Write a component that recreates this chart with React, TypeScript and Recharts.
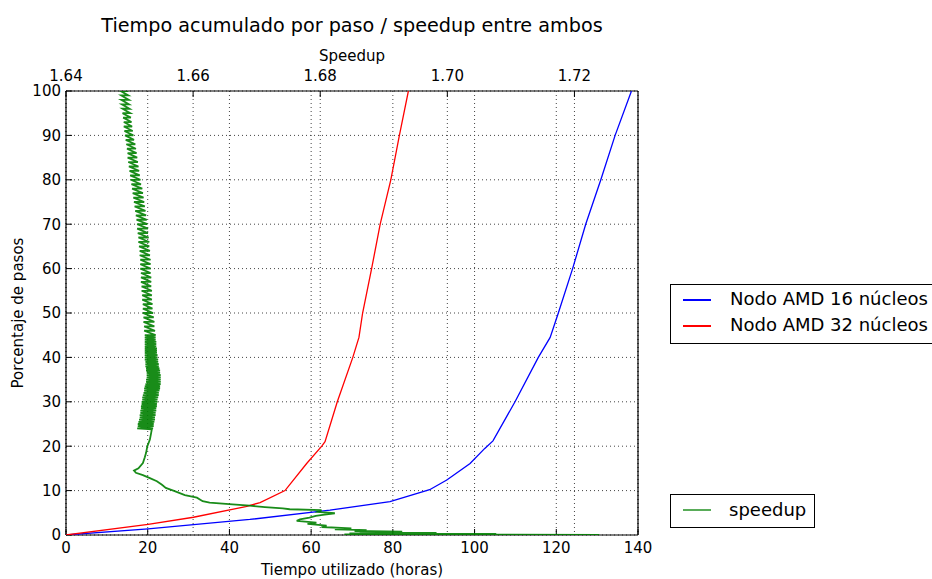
import React from "react";
import { ScatterChart, Scatter, XAxis, YAxis, CartesianGrid } from "recharts";

const hourTicks = [0, 20, 40, 60, 80, 100, 120, 140];
const speedupTicks = [1.64, 1.66, 1.68, 1.7, 1.72];
const pctTicks = [0, 10, 20, 30, 40, 50, 60, 70, 80, 90, 100];

// [horas, porcentaje]
const amd16: [number, number][] = [
  [0, 0], [20.1, 1.4], [45, 3.5], [64.6, 5.6], [79.3, 7.5], [89, 10.2],
  [93.2, 12.4], [98.9, 16.1], [102.5, 19.5], [104.5, 21.2], [109.9, 30],
  [115.6, 40], [118.5, 44.5], [120.5, 50], [124, 60], [127.2, 70],
  [130.9, 80], [134.4, 90], [138.4, 100],
];

const amd32: [number, number][] = [
  [0, 0], [20.1, 2.4], [31.2, 4], [44, 6.4], [47.5, 7.3], [53.6, 10],
  [58.9, 16.1], [62.6, 20], [63.4, 21], [66.4, 30], [70.2, 40],
  [71.7, 44.5], [72.6, 50], [74.8, 60], [76.9, 70], [79.5, 80],
  [81.6, 90], [83.8, 100],
];

// speedup, tramo bajo: [porcentaje, speedup]
const speedupLow: [number, number][] = [
  [0, 1.7239], [0.15, 1.6838], [0.25, 1.7077], [0.35, 1.6846], [0.45, 1.6983],
  [0.6, 1.6862], [0.75, 1.6929], [0.9, 1.6854], [1.1, 1.6873], [1.3, 1.6823],
  [1.5, 1.6849], [1.8, 1.6802], [2.1, 1.681], [2.5, 1.678], [2.8, 1.6794],
  [3.2, 1.6763], [3.5, 1.6768], [3.9, 1.6783], [4.3, 1.6793], [4.6, 1.6807],
  [4.9, 1.6823], [5.2, 1.6796], [5.6, 1.6802], [5.8, 1.6752], [6.0, 1.6741],
  [6.3, 1.6713], [6.6, 1.6689], [6.9, 1.6662], [7.3, 1.6626], [7.6, 1.6615],
  [8.4, 1.6606], [9.0, 1.6587], [9.9, 1.6571], [10.6, 1.6557], [11.3, 1.6551],
  [12.1, 1.6543], [12.8, 1.6532], [13.5, 1.6521], [14.0, 1.651], [14.5, 1.6507],
  [15.0, 1.6514], [16.2, 1.6521], [17.5, 1.6524], [18.5, 1.6526], [20.0, 1.6528],
  [21.5, 1.6532], [23.0, 1.6534], [23.8, 1.6535],
];

// speedup, banda oscilante: [porcentaje, mínimo, máximo]
const speedupBand: [number, number, number][] = [
  [24.0, 1.6512, 1.6537], [24.5, 1.6513, 1.6538], [25.0, 1.6513, 1.6538],
  [25.5, 1.6514, 1.6539], [26.0, 1.6515, 1.654], [26.5, 1.6516, 1.654],
  [27.0, 1.6516, 1.6541], [27.5, 1.6517, 1.6541], [28.0, 1.6517, 1.6542],
  [28.5, 1.6518, 1.6542], [29.0, 1.6518, 1.6543], [29.5, 1.6519, 1.6543],
  [30.0, 1.6519, 1.6544], [30.5, 1.652, 1.6544], [31.0, 1.652, 1.6545],
  [31.5, 1.6521, 1.6546], [32.0, 1.6522, 1.6546], [32.5, 1.6523, 1.6547],
  [33.0, 1.6523, 1.6548], [33.5, 1.6524, 1.6548], [34.0, 1.6525, 1.6549],
  [34.5, 1.6526, 1.6549], [35.0, 1.6526, 1.6549], [35.5, 1.6527, 1.6549],
  [36.0, 1.6527, 1.6549], [36.5, 1.6527, 1.6548], [37.0, 1.6526, 1.6548],
  [37.5, 1.6526, 1.6547], [38.0, 1.6525, 1.6546], [38.5, 1.6525, 1.6546],
  [39.0, 1.6525, 1.6545], [39.5, 1.6524, 1.6545], [40.0, 1.6524, 1.6544],
  [40.5, 1.6524, 1.6544], [41.0, 1.6524, 1.6543], [41.5, 1.6524, 1.6543],
  [42.0, 1.6524, 1.6543], [42.5, 1.6524, 1.6542], [43.0, 1.6524, 1.6542],
  [43.5, 1.6524, 1.6542], [44.0, 1.6524, 1.6541], [44.5, 1.6524, 1.6541],
  [45.0, 1.6524, 1.6541],
  [46, 1.6523, 1.654], [47, 1.6523, 1.6539], [48, 1.6522, 1.6539],
  [49, 1.6522, 1.6538], [50, 1.6521, 1.6537], [51, 1.6521, 1.6536],
  [52, 1.6521, 1.6536], [53, 1.652, 1.6535], [54, 1.652, 1.6535],
  [55, 1.6519, 1.6535], [56, 1.6519, 1.6534], [57, 1.6518, 1.6534],
  [58, 1.6518, 1.6534], [59, 1.6518, 1.6533], [60, 1.6517, 1.6533],
  [61, 1.6517, 1.6533], [62, 1.6517, 1.6533], [63, 1.6516, 1.6532],
  [64, 1.6516, 1.6532], [65, 1.6515, 1.6531], [66, 1.6514, 1.6531],
  [67, 1.6514, 1.653], [68, 1.6513, 1.6529], [69, 1.6512, 1.6529],
  [70, 1.6512, 1.6528], [71, 1.6511, 1.6527], [72, 1.651, 1.6526],
  [73, 1.6509, 1.6525], [74, 1.6508, 1.6524], [75, 1.6507, 1.6523],
  [76, 1.6506, 1.6522], [77, 1.6505, 1.6521], [78, 1.6504, 1.652],
  [79, 1.6503, 1.6518], [80, 1.6502, 1.6517], [81, 1.6501, 1.6516],
  [82, 1.65, 1.6515], [83, 1.6499, 1.6514], [84, 1.6498, 1.6513],
  [85, 1.6497, 1.6512], [86, 1.6497, 1.6511], [87, 1.6496, 1.651],
  [88, 1.6495, 1.6509], [89, 1.6494, 1.6507], [90, 1.6493, 1.6506],
  [91, 1.6492, 1.6505], [92, 1.6491, 1.6504], [93, 1.6491, 1.6503],
  [94, 1.649, 1.6502], [95, 1.6489, 1.6501], [96, 1.6489, 1.65],
  [97, 1.6488, 1.6499], [98, 1.6487, 1.6499], [99, 1.6487, 1.6498],
  [100, 1.6486, 1.6498],
];

const blueData = amd16.map(([h, p]) => ({ x: h, y: p }));
const redData = amd32.map(([h, p]) => ({ x: h, y: p }));
const greenData = [
  ...speedupLow.map(([p, s]) => ({ x: s, y: p })),
  ...speedupBand.flatMap(([p, lo, hi]) => [
    { x: lo, y: p },
    { x: hi, y: p },
  ]),
];

const font = "'DejaVu Sans', sans-serif";
const tickStyle = { fill: "#000", fontSize: 15, fontFamily: font };
const noDot = () => <g />;

const abs = (extra: React.CSSProperties): React.CSSProperties => ({
  position: "absolute",
  fontFamily: font,
  color: "#000",
  lineHeight: 1,
  whiteSpace: "nowrap",
  ...extra,
});

const swatch = (top: number, color: string): React.CSSProperties =>
  abs({ left: 12, top, width: 28, height: 1.5, background: color });

export default function App() {
  return (
    <div
      style={{
        position: "absolute",
        left: 0,
        top: 0,
        width: 932,
        height: 579,
        overflow: "hidden",
        background: "#fff",
      }}
    >
      <ScatterChart
        width={932}
        height={579}
        margin={{ top: 61, right: 0, bottom: 14, left: 16 }}
      >
        <CartesianGrid
          xAxisId="hours"
          yAxisId="pct"
          stroke="#444"
          strokeWidth={1}
          strokeDasharray="1 3"
        />
        <CartesianGrid
          xAxisId="speedup"
          yAxisId="pct"
          horizontal={false}
          stroke="#444"
          strokeWidth={1}
          strokeDasharray="1 3"
        />
        <XAxis
          xAxisId="hours"
          type="number"
          dataKey="x"
          domain={[0, 140]}
          ticks={hourTicks}
          interval={0}
          orientation="bottom"
          height={30}
          tick={tickStyle}
          tickSize={-6}
          tickMargin={13}
          axisLine={{ stroke: "#000", strokeWidth: 1.2 }}
          tickLine={{ stroke: "#000" }}
          allowDataOverflow
        />
        <XAxis
          xAxisId="speedup"
          type="number"
          dataKey="x"
          domain={[1.64, 1.73]}
          ticks={speedupTicks}
          interval={0}
          orientation="top"
          height={30}
          tick={tickStyle}
          tickFormatter={(v: number) => v.toFixed(2)}
          tickSize={-6}
          tickMargin={16}
          axisLine={{ stroke: "#000", strokeWidth: 1.2 }}
          tickLine={{ stroke: "#000" }}
          allowDataOverflow
        />
        <YAxis
          yAxisId="pct"
          type="number"
          dataKey="y"
          domain={[0, 100]}
          ticks={pctTicks}
          interval={0}
          width={50}
          tick={tickStyle}
          tickSize={-6}
          tickMargin={11}
          axisLine={{ stroke: "#000", strokeWidth: 1.2 }}
          tickLine={{ stroke: "#000" }}
          allowDataOverflow
        />
        <YAxis
          yAxisId="right"
          orientation="right"
          type="number"
          domain={[0, 100]}
          ticks={pctTicks}
          interval={0}
          width={294}
          tick={() => <g />}
          tickSize={-6}
          axisLine={{ stroke: "#000", strokeWidth: 1.2 }}
          tickLine={{ stroke: "#000" }}
        />
        <Scatter
          name="Nodo AMD 16 núcleos"
          xAxisId="hours"
          yAxisId="pct"
          data={blueData}
          line={{ stroke: "#0000ff", strokeWidth: 1.3 }}
          lineType="joint"
          shape={noDot}
          isAnimationActive={false}
        />
        <Scatter
          name="Nodo AMD 32 núcleos"
          xAxisId="hours"
          yAxisId="pct"
          data={redData}
          line={{ stroke: "#ff0000", strokeWidth: 1.3 }}
          lineType="joint"
          shape={noDot}
          isAnimationActive={false}
        />
        <Scatter
          name="speedup"
          xAxisId="speedup"
          yAxisId="pct"
          data={greenData}
          line={{ stroke: "#008000", strokeWidth: 1.8, strokeOpacity: 0.9 }}
          lineType="joint"
          shape={noDot}
          isAnimationActive={false}
        />
      </ScatterChart>

      <div style={abs({ left: 0, width: 704, top: 16, fontSize: 19.2, textAlign: "center" })}>
        Tiempo acumulado por paso / speedup entre ambos
      </div>
      <div style={abs({ left: 0, width: 704, top: 49, fontSize: 15, textAlign: "center" })}>
        Speedup
      </div>
      <div style={abs({ left: 0, width: 704, top: 563, fontSize: 15, textAlign: "center" })}>
        Tiempo utilizado (horas)
      </div>
      <div
        style={abs({
          left: 18,
          top: 313,
          fontSize: 15,
          transform: "translate(-50%, -50%) rotate(-90deg)",
        })}
      >
        Porcentaje de pasos
      </div>

      <div
        style={abs({
          left: 670,
          top: 284,
          width: 290,
          height: 58,
          border: "1px solid #000",
          background: "#fff",
          fontSize: 18,
        })}
      >
        <div style={swatch(14, "#0000ff")} />
        <div style={abs({ left: 59, top: 5, fontSize: 18 })}>Nodo AMD 16 núcleos</div>
        <div style={swatch(40, "#ff0000")} />
        <div style={abs({ left: 59, top: 31, fontSize: 18 })}>Nodo AMD 32 núcleos</div>
      </div>

      <div
        style={abs({
          left: 670,
          top: 494,
          width: 143,
          height: 32,
          border: "1px solid #000",
          background: "#fff",
        })}
      >
        <div style={swatch(14, "rgba(0,128,0,0.65)")} />
        <div style={abs({ left: 58, top: 6, fontSize: 18 })}>speedup</div>
      </div>
    </div>
  );
}
